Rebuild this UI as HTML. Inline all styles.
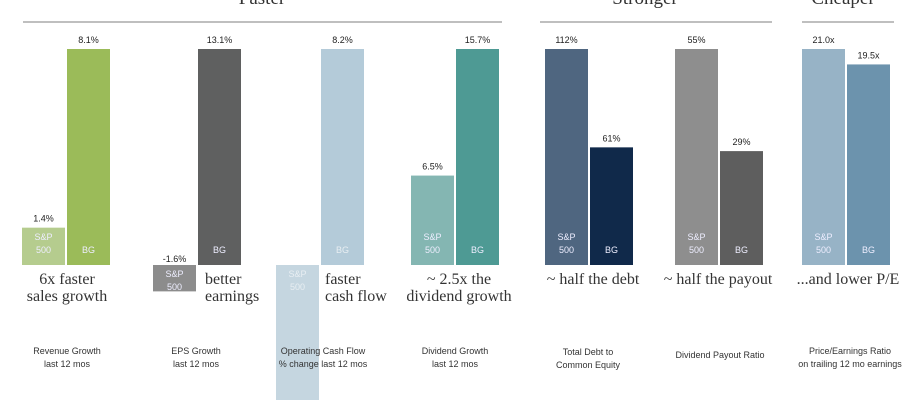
<!DOCTYPE html>
<html><head><meta charset="utf-8"><style>
body{margin:0;width:920px;height:400px;overflow:hidden;background:#fff;font-family:"Liberation Sans",sans-serif}
svg text{font-family:"Liberation Sans",sans-serif}
.serif{font-family:"Liberation Serif",serif}
</style></head><body>
<svg id="c" width="920" height="400">
<g>
<text x="262" y="4" text-anchor="middle" font-size="19" fill="#333" class="serif">Faster</text>
<line x1="23" y1="22" x2="502" y2="22" stroke="#999" stroke-width="1.2"/>
<text x="645" y="4" text-anchor="middle" font-size="19" fill="#333" class="serif">Stronger</text>
<line x1="540" y1="22" x2="772" y2="22" stroke="#999" stroke-width="1.2"/>
<text x="843" y="4" text-anchor="middle" font-size="19" fill="#333" class="serif">Cheaper</text>
<line x1="802" y1="22" x2="894" y2="22" stroke="#999" stroke-width="1.2"/>
</g>
</svg>
<script>
const categories=["Revenue Growth","EPS Growth","Operating Cash Flow","Dividend Growth","Total Debt to Common Equity","Dividend Payout Ratio","Price/Earnings Ratio"];
const spValues=[1.4,-1.6,-6.0,6.5,112,55,21.0];
const bgValues=[8.1,13.1,8.2,15.7,61,29,19.5];
const spLabels=["1.4%","-1.6%","","6.5%","112%","55%","21.0x"];
const bgLabels=["8.1%","13.1%","8.2%","15.7%","61%","29%","19.5x"];
const spColors=["#b5cc8e","#8c8c8c","#c5d6e0","#84b6b2","#4f6680","#8e8e8e","#97b3c6"];
const bgColors=["#9bbb59","#5f6060","#b4cbd9","#4e9a94","#10294a","#5e5e5e","#6c93ad"];
const groupX=[22,153,276,411,545,675,802];
const barW=43, gap=2, baseY=265, maxH=216;
const notes=[["6x faster","sales growth"],["better","earnings"],["faster","cash flow"],["~ 2.5x the","dividend growth"],["~ half the debt"],["~ half the payout"],["...and lower P/E"]];
const noteX=[67,205,325,459,593,718,848];
const noteAnchor=["middle","start","start","middle","middle","middle","middle"];
const subs=[["Revenue Growth","last 12 mos"],["EPS Growth","last 12 mos"],["Operating Cash Flow","% change last 12 mos"],["Dividend Growth","last 12 mos"],["Total Debt to","Common Equity"],["Dividend  Payout Ratio"],["Price/Earnings Ratio","on trailing 12 mo earnings"]];
const subX=[67,196,323,455,588,720,850];
const NS="http://www.w3.org/2000/svg";
const svg=document.getElementById('c');
function mk(tag,a,p){const e=document.createElementNS(NS,tag);for(const k in a)e.setAttribute(k,a[k]);(p||svg).appendChild(e);return e;}
function txt(x,y,s,size,fill,anchor,cls,p){const t=mk('text',{x:x,y:y,'font-size':size,fill:fill,'text-anchor':anchor||'middle'},p);if(cls)t.setAttribute('class',cls);t.textContent=s;return t;}
categories.forEach((cat,i)=>{
  const g=mk('g',{});
  
  
  const m=Math.max(Math.abs(spValues[i]),Math.abs(bgValues[i]));
  const sc=v=>v/m*maxH;
  [[spValues[i],spColors[i],spLabels[i],groupX[i],true],[bgValues[i],bgColors[i],bgLabels[i],groupX[i]+barW+gap,false]].forEach(([v,col,lab,x,isSp])=>{
    const h=Math.abs(sc(v)); const y=v>=0?baseY-h:baseY;
    const r=mk('rect',{x:x,y:y,width:barW,height:h,fill:col},g);
    
    
    const cx=x+barW/2;
    if(lab){const ly=v>=0?y-6:y-3; const t=txt(cx,ly,lab,9,'#222','middle',null,g);
      
      }
    const inFill=(i==2)?'#e8eef2':'#eef';
    if(isSp){const top=v>=0?baseY-25:baseY+12;
      txt(cx,top,'S&P',9,inFill,'middle',null,g);txt(cx,top+13,'500',9,inFill,'middle',null,g);}
    else{txt(cx,baseY-12,'BG',9,inFill,'middle',null,g);}
  });
  notes[i].forEach((s,j)=>{const t=txt(noteX[i],284+j*17,s,16,'#333',noteAnchor[i],'serif',g);
    
    });
  const sl=subs[i]; const sy=sl.length==1?358:(i==4?355:354);
  sl.forEach((s,j)=>{const t=txt(subX[i],sy+j*13,s,9,'#333','middle',null,g);
    
    });
});
</script>
</body></html>
